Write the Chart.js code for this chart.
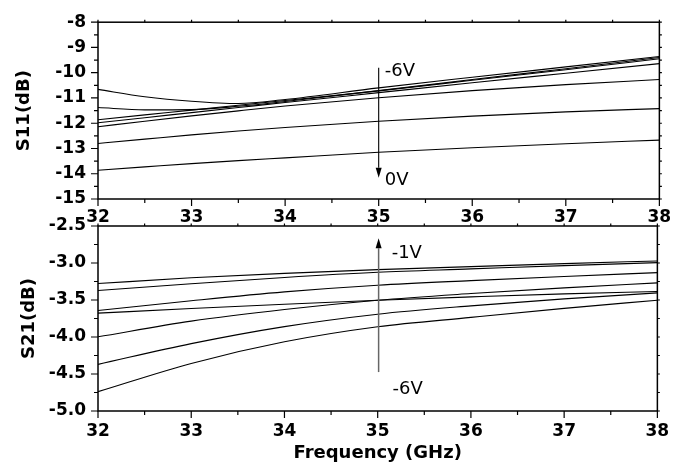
<!DOCTYPE html>
<html>
<head>
<meta charset="utf-8">
<script src="https://cdn.jsdelivr.net/npm/chart.js@4.4.1/dist/chart.umd.min.js"></script>
<style>
  html, body { margin: 0; padding: 0; background: #fff; }
  #wrap { position: relative; width: 680px; height: 474px; }
  canvas { position: absolute; left: 0; top: 0; }
</style>
</head>
<body>
<div id="wrap">
  <canvas id="s21" width="680" height="474"></canvas>
  <canvas id="s11" width="680" height="474"></canvas>
</div>
<script>
// Frequency sweep (GHz)
const freqS11 = [32, 32.5, 33, 33.5, 34, 35, 36, 37, 38];
const freqS21 = [32, 33, 34, 35, 36, 37, 38];

// S11 (dB) for bias from -6 V to 0 V
const s11_m6V = [-10.66, -10.95, -11.13, -11.22, -11.06, -10.60, -10.18, -9.77, -9.36];
const s11_m5V = [-11.38, -11.47, -11.46, -11.33, -11.14, -10.71, -10.27, -9.84, -9.40];
const s11_m4V = [-11.86, -11.67, -11.48, -11.29, -11.10, -10.72, -10.30, -9.88, -9.45];
const s11_m3V = [-11.98, -11.78, -11.58, -11.38, -11.18, -10.79, -10.40, -10.02, -9.64];
const s11_m2V = [-12.14, -11.92, -11.71, -11.51, -11.32, -10.99, -10.71, -10.47, -10.27];
const s11_m1V = [-12.80, -12.63, -12.46, -12.31, -12.17, -11.92, -11.72, -11.55, -11.42];
const s11_0V  = [-13.86, -13.73, -13.60, -13.48, -13.37, -13.15, -12.97, -12.81, -12.67];

// S21 (dB) for bias from 0 V to -6 V
const s21_0V  = [-3.278, -3.200, -3.140, -3.089, -3.049, -3.009, -2.972];
const s21_m1V = [-3.372, -3.280, -3.195, -3.125, -3.080, -3.035, -2.995];
const s21_m2V = [-3.642, -3.510, -3.390, -3.300, -3.238, -3.182, -3.130];
const s21_m3V = [-3.678, -3.615, -3.557, -3.503, -3.458, -3.417, -3.386];
const s21_m4V = [-3.997, -3.786, -3.629, -3.503, -3.413, -3.336, -3.269];
const s21_m5V = [-4.370, -4.090, -3.860, -3.692, -3.579, -3.485, -3.404];
const s21_m6V = [-4.739, -4.357, -4.065, -3.862, -3.735, -3.613, -3.503];

// Axis ranges and tick labels
const freqTicks = [32, 33, 34, 35, 36, 37, 38];
const s11Ticks = [-15, -14, -13, -12, -11, -10, -9, -8];
const s21Ticks = [-5.0, -4.5, -4.0, -3.5, -3.0, -2.5];

const FONT = "'DejaVu Sans', 'Liberation Sans', sans-serif";
Chart.defaults.font.family = FONT;
Chart.defaults.color = '#000';

function series(freq, values, label) {
  return {
    label,
    data: freq.map((f, i) => ({ x: f, y: values[i] })),
    borderColor: '#000',
    borderWidth: 1.1,
    pointRadius: 0,
    fill: false,
    cubicInterpolationMode: 'monotone'
  };
}

// Box frame with major/minor ticks on all four sides
const frameTicks = {
  id: 'frameTicks',
  afterDraw(chart, args, o) {
    const { ctx, chartArea: a, scales: { x, y } } = chart;
    ctx.save();
    ctx.strokeStyle = '#000';
    ctx.lineWidth = 1.5;
    ctx.strokeRect(a.left, a.top, a.right - a.left, a.bottom - a.top);
    ctx.lineWidth = 1.2;
    ctx.beginPath();
    const nx = Math.round((x.max - x.min) / o.xMinor);
    for (let i = 0; i <= nx; i++) {
      const px = x.getPixelForValue(x.min + i * o.xMinor);
      const len = (i % 2 === 0) ? 7 : 4;
      ctx.moveTo(px, a.bottom); ctx.lineTo(px, a.bottom + len);
      ctx.moveTo(px, a.top); ctx.lineTo(px, a.top - 2.5);
    }
    const ny = Math.round((y.max - y.min) / o.yMinor);
    for (let i = 0; i <= ny; i++) {
      const py = y.getPixelForValue(y.min + i * o.yMinor);
      const len = (i % 2 === 0) ? 7 : 4;
      ctx.moveTo(a.left, py); ctx.lineTo(a.left - len, py);
      ctx.moveTo(a.right, py); ctx.lineTo(a.right + 2.5, py);
    }
    ctx.stroke();
    ctx.restore();
  }
};

// Bias-direction arrow and its end labels
const biasArrow = {
  id: 'biasArrow',
  afterDatasetsDraw(chart, args, o) {
    const { ctx, scales: { x, y } } = chart;
    const px = x.getPixelForValue(o.x);
    const pTail = y.getPixelForValue(o.from);
    const pTip = y.getPixelForValue(o.to);
    const dir = pTip > pTail ? 1 : -1;
    const head = 10;
    ctx.save();
    ctx.strokeStyle = o.shaftColor;
    ctx.lineWidth = o.shaftWidth;
    ctx.beginPath();
    ctx.moveTo(px, pTail);
    ctx.lineTo(px, pTip - dir * head);
    ctx.stroke();
    ctx.fillStyle = '#000';
    ctx.beginPath();
    ctx.moveTo(px, pTip);
    ctx.lineTo(px - 3, pTip - dir * head);
    ctx.lineTo(px + 3, pTip - dir * head);
    ctx.closePath();
    ctx.fill();
    ctx.font = "18px " + FONT;
    ctx.textAlign = 'left';
    ctx.textBaseline = 'middle';
    ctx.fillStyle = '#000';
    for (const t of o.labels) {
      ctx.fillText(t.text, x.getPixelForValue(t.x), y.getPixelForValue(t.y));
    }
    ctx.restore();
  }
};

function tickFont() { return { size: 17, weight: 'bold', family: FONT }; }

// Upper panel: S11
new Chart(document.getElementById('s11'), {
  type: 'line',
  data: {
    datasets: [
      series(freqS11, s11_m6V, '-6V'),
      series(freqS11, s11_m5V, '-5V'),
      series(freqS11, s11_m4V, '-4V'),
      series(freqS11, s11_m3V, '-3V'),
      series(freqS11, s11_m2V, '-2V'),
      series(freqS11, s11_m1V, '-1V'),
      series(freqS11, s11_0V, '0V')
    ]
  },
  options: {
    responsive: false,
    animation: false,
    layout: { padding: { left: 0, top: 14, right: 14, bottom: 245 } },
    plugins: {
      legend: { display: false },
      tooltip: { enabled: false },
      frameTicks: { xMinor: 0.5, yMinor: 0.5 },
      biasArrow: {
        x: 35, from: -9.80, to: -14.16, shaftColor: '#000', shaftWidth: 1.1,
        labels: [{ text: '-6V', x: 35.065, y: -9.93 }, { text: '0V', x: 35.065, y: -14.26 }]
      }
    },
    scales: {
      x: {
        type: 'linear', min: 32, max: 38,
        afterBuildTicks: s => { s.ticks = freqTicks.map(v => ({ value: v })); },
        ticks: { font: tickFont(), padding: 8.8, color: '#000', callback: v => String(v) },
        grid: { display: false, drawTicks: false },
        border: { display: false },
        afterFit: s => { s.height = 30; }
      },
      y: {
        type: 'linear', min: -15, max: -8,
        afterBuildTicks: s => { s.ticks = s11Ticks.map(v => ({ value: v })); },
        ticks: { font: tickFont(), padding: 12, color: '#000', callback: v => String(v) },
        grid: { display: false, drawTicks: false },
        border: { display: false },
        title: { display: true, text: 'S11(dB)', font: { size: 18, weight: 'bold', family: FONT }, padding: { top: 13.5, bottom: 0 }, color: '#000' },
        afterFit: s => { s.width = 98; }
      }
    }
  },
  plugins: [frameTicks, biasArrow]
});

// Lower panel: S21
new Chart(document.getElementById('s21'), {
  type: 'line',
  data: {
    datasets: [
      series(freqS21, s21_0V, '0V'),
      series(freqS21, s21_m1V, '-1V'),
      series(freqS21, s21_m2V, '-2V'),
      series(freqS21, s21_m3V, '-3V'),
      series(freqS21, s21_m4V, '-4V'),
      series(freqS21, s21_m5V, '-5V'),
      series(freqS21, s21_m6V, '-6V')
    ]
  },
  options: {
    responsive: false,
    animation: false,
    layout: { padding: { left: 0, top: 226, right: 14, bottom: 0 } },
    plugins: {
      legend: { display: false },
      tooltip: { enabled: false },
      frameTicks: { xMinor: 0.5, yMinor: 0.25 },
      biasArrow: {
        x: 35.01, from: -4.474, to: -2.666, shaftColor: '#666', shaftWidth: 1.5,
        labels: [{ text: '-1V', x: 35.15, y: -2.868 }, { text: '-6V', x: 35.16, y: -4.71 }]
      }
    },
    scales: {
      x: {
        type: 'linear', min: 32, max: 38,
        afterBuildTicks: s => { s.ticks = freqTicks.map(v => ({ value: v })); },
        ticks: { font: tickFont(), padding: 10.8, color: '#000', callback: v => String(v) },
        grid: { display: false, drawTicks: false },
        border: { display: false },
        title: { display: true, text: 'Frequency (GHz)', font: { size: 18, weight: 'bold', family: FONT }, padding: { top: 0, bottom: 9.7 }, color: '#000' },
        afterFit: s => { s.height = 63; }
      },
      y: {
        type: 'linear', min: -5, max: -2.5,
        afterBuildTicks: s => { s.ticks = s21Ticks.map(v => ({ value: v })); },
        ticks: { font: tickFont(), padding: 12, color: '#000', callback: v => Number(v).toFixed(1) },
        grid: { display: false, drawTicks: false },
        border: { display: false },
        title: { display: true, text: 'S21(dB)', font: { size: 18, weight: 'bold', family: FONT }, padding: { top: 18.2, bottom: 0 }, color: '#000' },
        afterFit: s => { s.width = 98; }
      }
    }
  },
  plugins: [frameTicks, biasArrow]
});
</script>
</body>
</html>
